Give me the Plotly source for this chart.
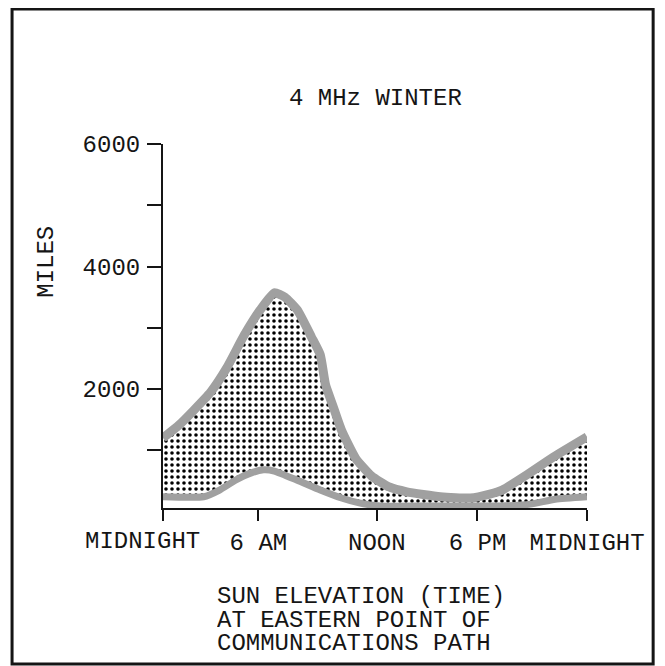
import plotly.graph_objects as go

# ---- data (hours after midnight, miles) ----
upper_hours = [0, 0.9, 1.7, 2.7, 3.6, 4.6, 5.5, 6.3, 6.9, 7.6, 8.4, 8.9, 9.2, 9.6,
               10.1, 10.9, 11.8, 12.8, 13.8, 15.7, 17.4, 18.5, 19.2, 20.6, 22.1, 24]
upper_miles = [1200, 1410, 1640, 1950, 2340, 2880, 3290, 3570, 3500, 3290, 2850, 2560,
               2070, 1740, 1330, 870, 580, 400, 320, 240, 220, 285, 350, 600, 890, 1220]

lower_hours = [0, 2.3, 3.2, 4.1, 5.0, 5.7, 6.3, 7.6, 8.9, 10.1, 11.1, 12.3, 15.1,
               19.1, 20.8, 22.2, 24]
lower_miles = [240, 240, 350, 510, 630, 680, 660, 510, 350, 220, 140, 90, 90,
               90, 120, 200, 240]

x_tick_pos = [0, 5.4, 12.1, 17.8, 24]
x_tick_text = ["", "6 AM", "NOON", "6 PM", "MIDNIGHT"]
first_tick_label = "MIDNIGHT"
y_tick_vals = [1000, 2000, 3000, 4000, 5000, 6000]
y_tick_text = ["", "2000", "", "4000", "", "6000"]

title_text = "4 MHz WINTER"
y_title = "MILES"
caption_lines = ["SUN ELEVATION (TIME)", "AT EASTERN POINT OF", "COMMUNICATIONS PATH"]

FONT = "Liberation Mono, Courier New, monospace"
INK = "#151515"
BAND = "rgb(160,160,160)"

fig = go.Figure()
fig.add_trace(go.Scatter(x=lower_hours, y=lower_miles, mode="lines",
                         line=dict(width=0, shape="spline", smoothing=0.5),
                         hoverinfo="skip", showlegend=False))
fig.add_trace(go.Scatter(x=upper_hours, y=upper_miles, mode="lines", fill="tonexty",
                         fillcolor="white",
                         fillpattern=dict(shape=".", size=6, solidity=0.28,
                                          fgcolor="black", bgcolor="white",
                                          fillmode="replace"),
                         line=dict(width=0, shape="spline", smoothing=0.5),
                         hoverinfo="skip", showlegend=False))
fig.add_trace(go.Scatter(x=upper_hours, y=upper_miles, mode="lines",
                         line=dict(width=9, color=BAND, shape="spline", smoothing=0.5),
                         hoverinfo="skip", showlegend=False))
fig.add_trace(go.Scatter(x=lower_hours, y=lower_miles, mode="lines",
                         line=dict(width=7, color=BAND, shape="spline", smoothing=0.5),
                         hoverinfo="skip", showlegend=False))

fig.update_layout(
    width=657, height=658,
    margin=dict(l=155, r=78, t=136, b=158),
    paper_bgcolor="white", plot_bgcolor="white",
    font=dict(family=FONT, size=24, color=INK),
    showlegend=False,
    xaxis=dict(range=[0, 24], showgrid=False, zeroline=False,
               showline=True, linecolor=INK, linewidth=2,
               ticks="outside", ticklen=11, tickwidth=2, tickcolor=INK,
               tickvals=x_tick_pos, ticktext=x_tick_text, tickangle=0,
               tickfont=dict(family=FONT, size=24, color=INK),
               ticklabelstandoff=0),
    yaxis=dict(range=[57, 6000], showgrid=False, zeroline=False,
               showline=True, linecolor=INK, linewidth=2,
               ticks="outside", ticklen=14, tickwidth=2, tickcolor=INK,
               tickvals=y_tick_vals, ticktext=y_tick_text,
               tickfont=dict(family=FONT, size=24, color=INK),
               ticklabelstandoff=2),
)

# border frame
fig.add_shape(type="rect", xref="paper", yref="paper",
              x0=-0.356, x1=1.156, y0=-0.4286, y1=1.371,
              line=dict(color=INK, width=3), fillcolor="rgba(0,0,0,0)")

# left MIDNIGHT label sits left of its tick in the reference
fig.add_annotation(text=first_tick_label, xref="paper", yref="paper", x=-0.0495, y=-0.0934,
                   showarrow=False, xanchor="center", yanchor="middle",
                   font=dict(family=FONT, size=24, color=INK))
fig.add_annotation(text=title_text, xref="paper", yref="paper", x=0.502, y=1.124,
                   showarrow=False, xanchor="center", yanchor="middle",
                   font=dict(family=FONT, size=24, color=INK))
fig.add_annotation(text=y_title, xref="paper", yref="paper", x=-0.274, y=0.676,
                   textangle=-90, showarrow=False, xanchor="center", yanchor="middle",
                   font=dict(family=FONT, size=24, color=INK))
for i, line in enumerate(caption_lines):
    fig.add_annotation(text=line, xref="paper", yref="paper", x=0.1226,
                       y=[-0.2445, -0.3077, -0.3709][i], height=23,
                       showarrow=False, xanchor="left", yanchor="middle",
                       font=dict(family=FONT, size=24, color=INK))

fig.write_html("out.html")
